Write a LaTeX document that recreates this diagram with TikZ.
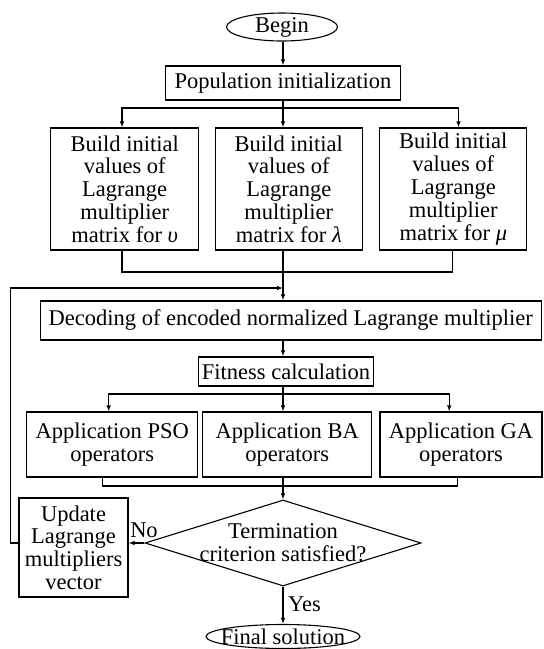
\documentclass[tikz,border=0pt]{standalone}
\usepackage{fontspec}
\setmainfont{Liberation Serif}
\usetikzlibrary{shapes.geometric,arrows.meta}
\begin{document}
\begin{tikzpicture}[x=1pt,y=-1pt,
  every node/.style={font=\fontsize{22.5}{22.8}\selectfont, inner sep=0pt, align=center},
  box/.style={draw, rectangle, line width=1.1pt},
  term/.style={draw, ellipse, line width=1.1pt, inner xsep=-16pt, inner ysep=-7pt},
  flow/.style={line width=1.1pt, -{Latex[length=6pt,width=4.5pt]}},
  link/.style={line width=1.1pt}]
\useasboundingbox (0,0) rectangle (544,649);

% nodes
\node[term, minimum width=111pt, minimum height=28pt] (begin) at (282,27) {Begin};
\node[box, minimum width=235pt, minimum height=34pt] (pop) at (283,83) {Population initialization};

\node[box, minimum width=148pt, minimum height=122pt] (ini1) at (124.7,189)
  {Build initial\\values of\\Lagrange\\multiplier\\matrix for \textit{υ}};
\node[box, minimum width=147pt, minimum height=122pt] (ini2) at (288.8,189)
  {Build initial\\values of\\Lagrange\\multiplier\\matrix for \textit{λ}};
\node[box, minimum width=147pt, minimum height=122pt] (ini3) at (453.3,189)
  {Build initial\\values of\\Lagrange\\multiplier\\matrix for \textit{μ}};

\node[box, minimum width=501.5pt, minimum height=39pt] (dec) at (290.8,320.5)
  {Decoding of encoded normalized Lagrange multiplier};
\node[box, minimum width=175pt, minimum height=29pt] (fit) at (286,371.5) {Fitness calculation};

\node[box, minimum width=170.8pt, minimum height=65pt] (pso) at (112.3,444.5) {Application PSO\\operators};
\node[box, minimum width=168.7pt, minimum height=65pt] (ba) at (287.2,444.5) {Application BA\\operators};
\node[box, minimum width=162pt, minimum height=65pt] (ga) at (461,444.5) {Application GA\\operators};

\node[draw, diamond, line width=1.1pt, minimum width=276pt, minimum height=86pt] (crit) at (283,543) {};
\node (crittext) at (crit.center) {Termination\\criterion satisfied?};

\node[box, minimum width=109pt, minimum height=99pt] (upd) at (73.5,547.5)
  {Update\\Lagrange\\multipliers\\vector};

\node[term, minimum width=154pt, minimum height=24pt] (fin) at (283,636.5) {Final solution};

\node (no) at (144,530) {No};
\node[anchor=west] (yes) at (288,604) {Yes};

% junction points on the main spine
\coordinate (spl) at (283,108);
\coordinate (mrg) at (283,272);
\coordinate (fb) at (283,288);
\coordinate (spl2) at (283,394);
\coordinate (mrg2) at (283,486);

% connectors
\draw[flow] (begin.south -| spl) -- (spl |- pop.north);
\draw[link] (pop.south -| spl) -- (spl);
\draw[flow] (spl) -| ([xshift=-2.7pt]ini1.north);
\draw[flow] (spl) -- (spl |- ini2.north);
\draw[flow] (spl) -| ([xshift=5.2pt]ini3.north);

\draw[link] ([xshift=-2.7pt]ini1.south) |- (mrg);
\draw[link] ([xshift=-1pt]ini3.south) |- (mrg);
\draw[link] (mrg |- ini2.south) -- (mrg);
\draw[flow] (mrg) -- (mrg |- dec.north);

\draw[flow] (upd.west |- crit.west) -- ++(-8,0) |- (fb);

\draw[flow] (dec.south -| spl) -- (spl |- fit.north);
\draw[link] (fit.south -| spl2) -- (spl2);
\draw[flow] (spl2) -| ([xshift=-3.6pt]pso.north);
\draw[flow] (spl2) -- (spl2 |- ba.north);
\draw[flow] (spl2) -| ([xshift=-11.8pt]ga.north);

\draw[link] ([xshift=-9.8pt]pso.south) |- (mrg2);
\draw[link] ([xshift=-3.5pt]ga.south) |- (mrg2);
\draw[link] (ba.south -| mrg2) -- (mrg2);
\draw[flow] (mrg2) -- (crit.north);

\draw[flow] (crit.west) -- (crit.west -| upd.east);
\draw[flow] (crit.south) -- (fin.north);
\end{tikzpicture}
\end{document}
